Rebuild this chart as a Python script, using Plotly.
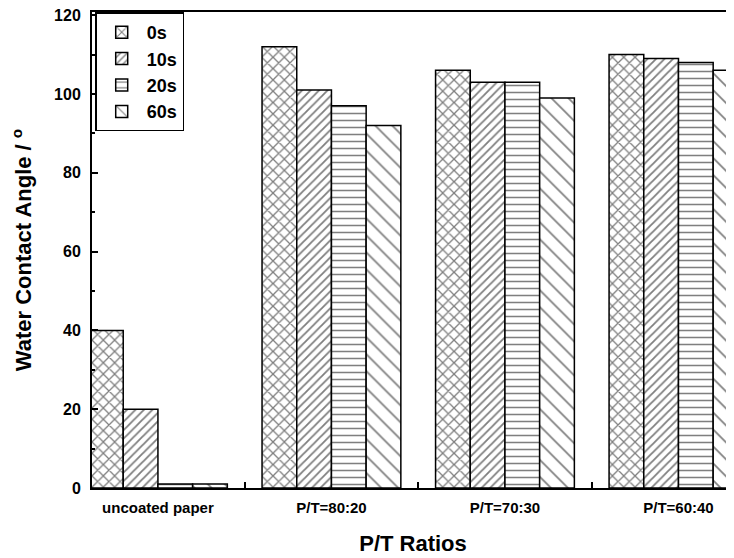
import plotly.graph_objects as go

categories = ["uncoated paper", "P/T=80:20", "P/T=70:30", "P/T=60:40"]
series_names = ["0s", "10s", "20s", "60s"]
values_0s = [40, 112, 106, 110]
values_10s = [20, 101, 103, 109]
values_20s = [1, 97, 103, 108]
values_60s = [1, 92, 99, 106]
y_ticks = [0, 20, 40, 60, 80, 100, 120]

series_values = [values_0s, values_10s, values_20s, values_60s]
patterns = [
    dict(shape="x", size=8, solidity=0.3),
    dict(shape="/", size=6, solidity=0.3),
    dict(shape="-", size=7, solidity=0.22),
    dict(shape="\\", size=12, solidity=0.14),
]

fig = go.Figure()
for name, vals, pat in zip(series_names, series_values, patterns):
    fig.add_trace(go.Bar(
        x=categories, y=vals, name=name,
        marker=dict(
            color="white",
            line=dict(color="black", width=1.5),
            pattern=dict(shape=pat["shape"], size=pat["size"], solidity=pat["solidity"],
                         fgcolor="black", bgcolor="white", fillmode="overlay"),
        ),
    ))

# the page body adds an 8px margin; figure size and margins compensate for it
fig.update_layout(
    width=726, height=550,
    margin=dict(l=84, r=0, t=4, b=70),
    paper_bgcolor="white", plot_bgcolor="white",
    barmode="group", bargap=0.2, bargroupgap=0,
    font=dict(family="Liberation Sans, Arial, sans-serif", color="black"),
    legend=dict(
        x=0.005, y=0.999, xanchor="left", yanchor="top",
        bgcolor="white", bordercolor="black", borderwidth=1.5,
        font=dict(size=18, family="Liberation Sans, Arial, sans-serif", weight="bold"),
        tracegroupgap=0, itemwidth=40,
    ),
    showlegend=True,
)

fig.update_xaxes(
    type="category", range=[-0.38, 3.32], automargin=False,
    showline=True, linecolor="black", linewidth=2, mirror=True,
    ticks="inside", tickson="boundaries", ticklen=6, tickwidth=2, tickcolor="black",
    showgrid=False, zeroline=False,
    tickfont=dict(size=15, weight="bold"),
    ticklabelstandoff=5, ticklabeloverflow="allow",
    title=dict(text="P/T Ratios", font=dict(size=22, weight="bold"), standoff=21),
)

fig.update_yaxes(
    range=[0, 120.8], tickvals=y_ticks, automargin=False,
    showline=True, linecolor="black", linewidth=2, mirror=False,
    ticks="inside", ticklen=6, tickwidth=2, tickcolor="black",
    minor=dict(ticks="inside", dtick=10, ticklen=3, tickwidth=1.5, tickcolor="black"),
    showgrid=False, zeroline=False,
    tickfont=dict(size=16, weight="bold"),
    ticklabelstandoff=6, ticklabeloverflow="allow",
    title=dict(text="Water Contact Angle / <sup>o</sup>", font=dict(size=22, weight="bold"), standoff=19),
)

fig.write_html("out.html")
